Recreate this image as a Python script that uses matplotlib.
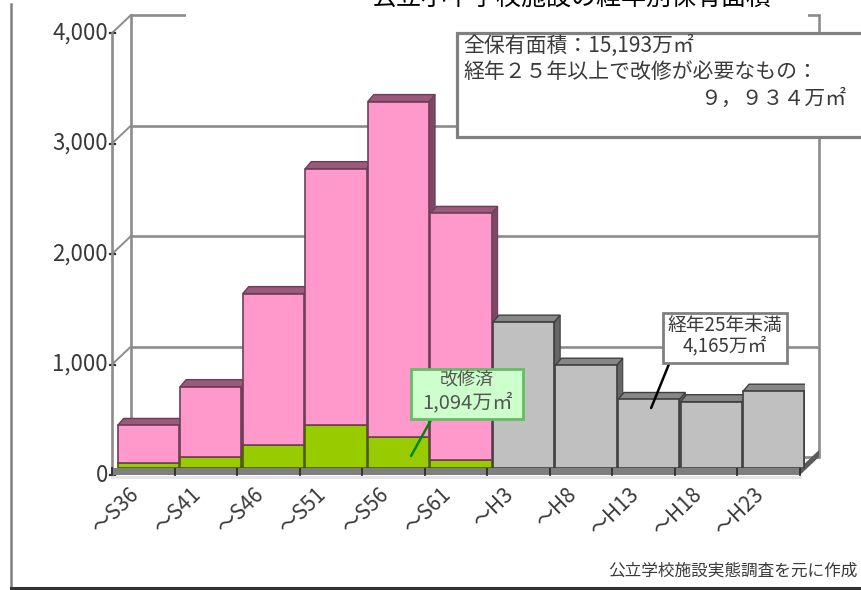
import matplotlib
matplotlib.use("Agg")
import matplotlib.pyplot as plt
from matplotlib.patches import Polygon, Rectangle

plt.rcParams['font.family'] = ['Noto Sans CJK JP', 'DejaVu Sans']

# ---------------- data ----------------
categories = ["～S36", "～S41", "～S46", "～S51", "～S56", "～S61",
              "～H3", "～H8", "～H13", "～H18", "～H23"]
renovated = [45, 100, 208, 389, 280, 72, 0, 0, 0, 0, 0]            # 改修済
needs_renovation = [340, 636, 1370, 2320, 3036, 2232, 0, 0, 0, 0, 0]  # 経年25年以上 要改修
under25 = [0, 0, 0, 0, 0, 0, 1320, 930, 620, 600, 695]             # 経年25年未満
yticks = [0, 1000, 2000, 3000, 4000]
ytick_labels = ["0", "1,000", "2,000", "3,000", "4,000"]

title_text = "公立小中学校施設の経年別保有面積"
box_line1 = "全保有面積：15,193万㎡"
box_line2 = "経年２５年以上で改修が必要なもの："
box_line3 = "９，９３４万㎡"
gray_call = ["経年25年未満", "4,165万㎡"]
green_call = ["改修済", "1,094万㎡"]
credit = "公立学校施設実態調査を元に作成"

# ---------------- figure ----------------
W, H = 861, 590
fig = plt.figure(figsize=(W / 100, H / 100), dpi=100)
fig.patch.set_facecolor("white")

def fx(px):
    return px / W

def fy(py):
    return 1 - py / H

# axes: bar plane (x -0.5..10.5 -> 117..805 px, value 0..4000 -> 468..26 px)
ax = fig.add_axes([fx(117), fy(468), 688 / W, 442 / H])
ax.set_xlim(-0.5, 10.5)
ax.set_ylim(0, 4000)
ax.axis("off")

PXX = 11 / 688.0
PXY = 4000 / 442.0

def off(dx, dy):
    return dx * PXX, dy * PXY

F0, F1 = off(-5, -7)    # front plane
B0, B1 = off(14, 11)    # back wall
D0, D1 = off(6, 7)      # bar depth

grid_c = "#8c8c8c"
text_c = "#3a3a3a"
glw = 1.9

# back wall gridlines + left wall connectors
for v, lab in zip(yticks, ytick_labels):
    ax.plot([-0.5 + B0, 10.5 + B0], [v + B1, v + B1], color=grid_c, lw=glw,
            clip_on=False, zorder=1, solid_capstyle="butt")
    ax.plot([-0.5 + F0, -0.5 + B0], [v + F1, v + B1], color=grid_c, lw=1.4,
            clip_on=False, zorder=1)
    ax.plot([-0.5 + F0 - 2 * PXX, -0.5 + F0 + 3 * PXX], [v + F1, v + F1],
            color="#303030", lw=1.6, clip_on=False, zorder=2)
    ax.text(-0.5 + F0 - 4 * PXX, v + F1, lab,
            ha="right", va="center", fontsize=16, color=text_c, clip_on=False)

# wall verticals
ax.plot([-0.5 + B0] * 2, [B1, 4000 + B1], color=grid_c, lw=glw, clip_on=False, zorder=1)
ax.plot([10.5 + B0] * 2, [B1, 4000 + B1], color=grid_c, lw=glw, clip_on=False, zorder=1)
ax.plot([-0.5 + F0] * 2, [F1, 4000 + F1], color=grid_c, lw=glw, clip_on=False, zorder=2)

# floor slab front strip and right side
ax.add_patch(Polygon([(-0.5 + F0, F1), (10.5 + F0, F1), (10.5 + F0, 0), (-0.5 + F0, 0)],
                     closed=True, fc="#7f7f7f", ec="none", clip_on=False, zorder=2))
ax.add_patch(Polygon([(10.5 + F0, F1), (10.5 + F0, 0), (10.5 + B0, B1 - F1), (10.5 + B0, B1)],
                     closed=True, fc="#5a5a5a", ec="none", clip_on=False, zorder=2))
ax.plot([-0.5 + F0, 10.5 + F0], [F1 - 2 * PXY, F1 - 2 * PXY], color="#e4e4e4", lw=2,
        clip_on=False, zorder=2)
for k in range(12):
    ax.plot([k - 0.5 + F0] * 2, [F1, 0], color="#2e2e2e", lw=1.3, clip_on=False, zorder=2.5)

# ---------------- bars ----------------
width = 0.98
series = [
    (renovated, "#99cc00", "#5c7a00", "#6f8f00", "#4a5e00"),
    (needs_renovation, "#ff99cc", "#9a5a7c", "#7c4864", "#6e3e58"),
    (under25, "#c0c0c0", "#878787", "#666666", "#404040"),
]
xs = list(range(len(categories)))
bottoms = [0] * len(categories)
for vals, fc, topc, sidec, ec in series:
    bc = ax.bar(xs, vals, width=width, bottom=bottoms, color=fc, edgecolor=ec,
                linewidth=1.2, zorder=3)
    for i, p in enumerate(bc.patches):
        p.set_zorder(3 + i * 0.1 + 0.05)
        v = vals[i]
        if v <= 0:
            p.set_visible(False)
            continue
        b = bottoms[i]
        t = b + v
        x1 = i + width / 2
        ax.add_patch(Polygon([(x1, b), (x1 + D0, b + D1), (x1 + D0, t + D1), (x1, t)],
                             closed=True, fc=sidec, ec=ec, lw=0.8, zorder=3 + i * 0.1))
    for i in xs:
        bottoms[i] += vals[i]

for i in xs:
    t = bottoms[i]
    fc = series[1][2] if needs_renovation[i] > 0 else series[2][2]
    ec = series[1][4] if needs_renovation[i] > 0 else series[2][4]
    x0, x1 = i - width / 2, i + width / 2
    ax.add_patch(Polygon([(x0, t), (x1, t), (x1 + D0, t + D1), (x0 + D0, t + D1)],
                         closed=True, fc=fc, ec=ec, lw=1.0, zorder=3 + i * 0.1 + 0.01))

# category labels
for i, c in enumerate(categories):
    ax.text(i - 0.33, F1 - 9 * PXY, c, rotation=44, rotation_mode="anchor",
            ha="right", va="top", fontsize=15, color=text_c, clip_on=False)

# ---------------- callouts ----------------
# gray callout
fig.patches.append(Rectangle((fx(663), fy(363)), 124 / W, 50 / H, transform=fig.transFigure,
                             fc="white", ec="#808080", lw=2.0, zorder=30))
fig.text(fx(725), fy(325), gray_call[0], ha="center", va="center", fontsize=13.5,
         color=text_c, zorder=31)
fig.text(fx(725), fy(346), gray_call[1], ha="center", va="center", fontsize=13.5,
         color=text_c, zorder=31)
ax.annotate("", xy=(8.04, 543), xycoords="data", xytext=(fx(669), fy(364)),
            textcoords="figure fraction",
            arrowprops=dict(arrowstyle="-", color="black", lw=1.8, shrinkA=0, shrinkB=0),
            zorder=29, annotation_clip=False)

# green callout
fig.patches.append(Rectangle((fx(411), fy(419)), 112 / W, 50 / H, transform=fig.transFigure,
                             fc="#ccffcc", ec="#66bb66", lw=2.0, zorder=30))
fig.text(fx(467), fy(379), green_call[0], ha="center", va="center", fontsize=13,
         color="#555555", zorder=31)
fig.text(fx(467), fy(403), green_call[1], ha="center", va="center", fontsize=14.5,
         color="#555555", zorder=31)
ax.annotate("", xy=(4.2, 108), xycoords="data", xytext=(fx(431), fy(420)),
            textcoords="figure fraction",
            arrowprops=dict(arrowstyle="-", color="#008800", lw=1.8, shrinkA=0, shrinkB=0),
            zorder=29, annotation_clip=False)

# summary box
fig.patches.append(Rectangle((fx(457), fy(137)), 430 / W, 104 / H, transform=fig.transFigure,
                             fc="white", ec="#808080", lw=2.3, zorder=30))
fig.text(fx(463), fy(46), box_line1, ha="left", va="center", fontsize=15, color=text_c, zorder=31)
fig.text(fx(463), fy(72), box_line2, ha="left", va="center", fontsize=15, color=text_c, zorder=31)
fig.text(fx(846), fy(99), box_line3, ha="right", va="center", fontsize=15, color=text_c, zorder=31)

# title (cut off at the top edge, as in the reference)
fig.patches.append(Rectangle((fx(186), fy(24)), (808 - 186) / W, 30 / H, transform=fig.transFigure,
                             fc="white", ec="none", zorder=25))
fig.text(fx(572), fy(5), title_text, ha="center", va="baseline", fontsize=18,
         color="black", zorder=26)

# credit
fig.text(fx(858), fy(571), credit, ha="right", va="center", fontsize=12, color=text_c)

# outer frame
fig.add_artist(plt.Line2D([fx(11), fx(11)], [fy(4), fy(588)], transform=fig.transFigure,
                          color="#808080", lw=1.8))
fig.add_artist(plt.Line2D([fx(11), fx(861)], [fy(588), fy(588)], transform=fig.transFigure,
                          color="#333333", lw=2.2))

fig.savefig("out.png", dpi=100, facecolor="white")
